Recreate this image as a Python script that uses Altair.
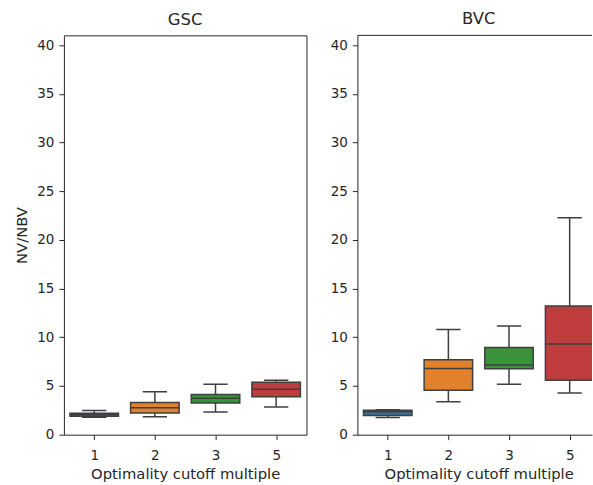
import altair as alt
import pandas as pd

cats = ["1", "2", "3", "5"]
positions = [1, 2, 3, 4]
colors = ["#3274a1", "#e1812c", "#3a923a", "#c03d3e"]

gsc_low = [1.80, 1.84, 2.32, 2.83]
gsc_q1 = [1.90, 2.22, 3.24, 3.89]
gsc_med = [2.05, 2.76, 3.75, 4.67]
gsc_q3 = [2.20, 3.31, 4.13, 5.38]
gsc_high = [2.49, 4.40, 5.18, 5.59]

bvc_low = [1.77, 3.37, 5.18, 4.29]
bvc_q1 = [1.98, 4.57, 6.78, 5.59]
bvc_med = [2.35, 6.80, 7.16, 9.30]
bvc_q3 = [2.50, 7.70, 8.96, 13.22]
bvc_high = [2.56, 10.80, 11.15, 22.26]

y_ticks = [0, 5, 10, 15, 20, 25, 30, 35, 40]
Y_MAX = 41
LINE = "#3f3f3f"
INK = "#262626"
FONT = "DejaVu Sans"


def frame(low, q1, med, q3, high):
    return pd.DataFrame({
        "cat": cats, "pos": positions, "color": colors,
        "low": low, "q1": q1, "med": med, "q3": q3, "high": high,
    })


def panel(df, title, width, xmax, left_panel):
    xs = alt.Scale(domain=[0.5, xmax], nice=False, zero=False)
    ys = alt.Scale(domain=[0, Y_MAX], nice=False)
    xaxis = alt.Axis(values=positions, labelExpr="datum.value == 4 ? '5' : datum.value",
                     title="Optimality cutoff multiple", grid=False,
                     domain=not left_panel,
                     titleX=121.5 if not left_panel else width / 2)
    yaxis = alt.Axis(values=y_ticks, grid=False, domain=not left_panel,
                     title="NV/NBV" if left_panel else None)
    base = alt.Chart(df).transform_calculate(
        bx="datum.pos - 0.4", bx2="datum.pos + 0.4",
        cx="datum.pos - 0.2", cx2="datum.pos + 0.2",
    )
    whisk = base.mark_rule(color=LINE, strokeWidth=1.5, clip=True).encode(
        x=alt.X("pos:Q", scale=xs, axis=xaxis),
        y=alt.Y("low:Q", scale=ys, axis=yaxis),
        y2="high:Q",
    )
    box = base.mark_rect(stroke=LINE, strokeWidth=1.5, clip=True).encode(
        x="bx:Q", x2="bx2:Q", y="q1:Q", y2="q3:Q",
        fill=alt.Fill("color:N", scale=None),
    )
    med = base.mark_rule(color=LINE, strokeWidth=1.5, clip=True).encode(
        x="bx:Q", x2="bx2:Q", y="med:Q",
    )
    caplo = base.mark_rule(color=LINE, strokeWidth=1.5, clip=True).encode(
        x="cx:Q", x2="cx2:Q", y="low:Q",
    )
    caphi = base.mark_rule(color=LINE, strokeWidth=1.5, clip=True).encode(
        x="cx:Q", x2="cx2:Q", y="high:Q",
    )
    layers = [whisk, box, med, caplo, caphi]
    if not left_panel:
        top = alt.Chart(pd.DataFrame({"spine": ["top"]})).mark_rule(
            color=INK, strokeWidth=1).encode(
            x=alt.value(0), x2=alt.value(width), y=alt.value(0)
        )
        layers.append(top)
    ch = alt.layer(*layers).properties(
        width=width, height=400,
        title=alt.TitleParams(title, fontSize=16.5, font=FONT, fontWeight="normal",
                              color=INK, offset=7,
                              dx=0 if left_panel else 4),
    )
    if left_panel:
        ch = ch.properties(view=alt.ViewBackground(stroke=INK, strokeWidth=1))
    else:
        ch = ch.properties(view=alt.ViewBackground(stroke=None))
    return ch


left = panel(frame(gsc_low, gsc_q1, gsc_med, gsc_q3, gsc_high), "GSC", 243, 4.5, True)
right = panel(frame(bvc_low, bvc_q1, bvc_med, bvc_q3, bvc_high), "BVC", 235,
              0.5 + 4 * 235 / 243, False)

chart = alt.hconcat(left, right, spacing=22).properties(
    padding={"left": 14, "top": 11, "right": 0, "bottom": 0},
    background="white",
).configure_axis(
    labelFont=FONT, titleFont=FONT, labelFontSize=13.5, titleFontSize=14.8,
    labelColor=INK, titleColor=INK, tickColor=INK, domainColor=INK,
    tickSize=5, labelPadding=5, titleFontWeight="normal", domainWidth=1, tickWidth=1,
).configure_axisY(titlePadding=7).configure_axisX(titlePadding=5, labelPadding=8.5)

chart.save("out.html", embed_options={"renderer": "svg", "actions": False})
